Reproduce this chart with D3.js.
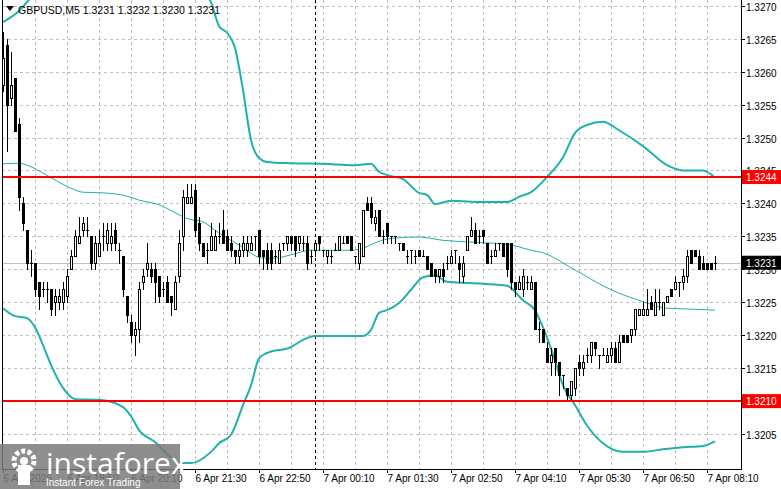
<!DOCTYPE html>
<html><head><meta charset="utf-8">
<script src="https://cdn.jsdelivr.net/npm/d3@7/dist/d3.min.js"></script>
<style>body{margin:0;background:#fff}svg{display:block}</style>
</head><body>
<script>
const P = v => +(1.32 + v/10000).toFixed(5);
// OHLC in pips above 1.3200 (1 pip = 0.0001)
const opens  = [58,64,56,59,52,40,36,31,31,28, 27,27,27,25,25,25,26,30,32,34, 36,36,35,31,32,35,34,34,36,33, 32,26,22,20,21,28,30,30,30,29, 27,28,26,24,29,35,40,40,42,37, 34,33,33,33,35,36,35,34,33,32, 33,33,33,35,36,33,33,33,32,31, 34,34,35,35,34,34,34,32,33,35, 33,32,32,33,33,34,35,35,32,31, 32,40,40,37,39,35,37,35,35,34, 34,32,33,32,33,32,32,31,30,29, 30,31,31,33,31,29,33,35,36,35, 36,34,32,32,34,34,34,34,28,27, 27,28,27,28,21,21,18,16,18,16, 14,12,11,12,16,15,17,17,19,17, 17,16,17,18,16,20,20,20,21,23, 23,23,25,23,25,23,25,27,27,28, 28,29,33,33,32,31,31,31,31].map(P);
const highs  = [66,65,63,59,53,41,36,33,31,28, 28,28,27,27,27,28,30,33,36,38, 38,38,35,35,36,37,37,37,37,34, 32,26,23,22,28,30,34,31,31,29, 28,29,26,29,36,42,43,43,43,38, 34,34,37,36,37,39,36,35,33,34, 35,35,35,35,36,33,34,34,33,34, 34,35,35,35,35,35,35,33,34,35, 33,33,33,34,35,35,35,35,32,34, 39,41,41,39,39,36,37,35,35,34, 34,33,33,33,33,33,32,31,30,30, 31,32,33,33,32,32,35,38,37,36, 36,34,33,34,34,34,34,34,28,29, 30,29,29,28,22,21,19,18,18,16, 14,12,13,15,17,17,18,19,19,17, 18,18,19,19,20,20,20,21,24,24, 25,27,26,27,27,25,26,27,29,28, 30,33,33,33,33,32,31,31,32].map(P);
const lows   = [57,48,55,51,39,36,30,29,26,24, 26,25,23,23,24,24,25,30,32,34, 35,35,30,30,32,33,33,33,33,31, 26,22,19,17,19,27,29,28,25,25, 26,25,23,24,28,33,40,40,35,33, 32,31,33,33,34,34,33,32,31,31, 32,32,33,33,31,30,30,30,31,31, 33,33,33,32,33,33,30,31,32,33, 32,31,31,33,33,34,34,33,31,30, 32,39,37,36,35,34,34,34,34,33, 33,31,31,31,32,32,30,29,28,28, 28,30,31,31,28,28,33,35,34,34, 34,31,31,32,33,32,29,27,26,27, 26,27,27,21,19,19,16,14,14,11, 12,10,10,11,14,14,16,16,17,15, 17,16,16,16,16,19,19,19,20,23, 23,23,24,23,24,23,25,26,27,26, 27,28,31,32,30,30,30,30,30].map(P);
const closes = [62,55,58,51,41,37,31,31,27,26, 27,27,24,26,26,27,29,32,35,35, 37,36,31,34,34,35,36,35,34,33, 27,23,20,21,27,29,31,29,28,26, 27,25,25,28,34,41,41,41,36,34, 32,33,35,35,35,34,33,33,32,33, 34,34,34,35,32,32,31,31,32,33, 34,35,34,33,35,34,31,32,34,34, 33,33,32,33,35,34,34,33,32,34, 39,39,38,38,35,35,35,35,35,34, 33,32,33,32,32,32,30,29,29,30, 29,31,32,33,30,31,35,36,34,35, 35,31,32,33,34,32,30,28,27,28, 29,28,28,21,21,19,16,17,16,14, 14,11,13,15,15,16,17,19,18,17, 17,17,18,16,19,19,19,21,24,24, 24,24,24,25,25,25,26,26,28,28, 29,32,31,32,30,30,30,30,31].map(P);

// Bollinger band lines: [bar index, price]
const upperBand = [[0,1.32675],[4,1.32692],[8,1.3272],[16,1.3276],[24,1.3278],[32,1.3279],[40,1.3277],[48,1.3273],[52,1.32705],[54,1.32669],[56,1.32659],[58,1.32636],[60,1.32572],[62,1.32496],[64,1.32469],[66,1.32463],[72,1.32461],[80,1.3246],[88,1.32458],[92,1.3246],[94,1.32448],[96,1.32443],[100,1.32437],[104,1.32416],[106,1.32413],[108,1.32399],[112,1.32404],[120,1.32402],[126,1.32402],[129,1.3241],[132,1.32417],[136,1.3244],[140,1.3247],[143,1.32507],[146,1.32519],[150,1.32524],[154,1.32511],[160,1.32487],[166,1.32458],[170,1.3245],[175,1.3245],[178,1.32439]];
const middleBand = [[0,1.3246],[4,1.32461],[6,1.32458],[12,1.32439],[17,1.32423],[20,1.32417],[25,1.32416],[31,1.32411],[34,1.32405],[39,1.32398],[43,1.32386],[46,1.32377],[50,1.32372],[54,1.32355],[59,1.32337],[65,1.32317],[68,1.32317],[72,1.32322],[77,1.32329],[87,1.32329],[90,1.32332],[93,1.3234],[97,1.32347],[104,1.32349],[110,1.32344],[118,1.32341],[126,1.32338],[132,1.32329],[135,1.32325],[143,1.32299],[152,1.32269],[159,1.32253],[166,1.32241],[170,1.3224],[178,1.32238]];
const lowerBand = [[0,1.32241],[3,1.32229],[6,1.32226],[8,1.32212],[10,1.32185],[12,1.32155],[15,1.3212],[18,1.32103],[24,1.32102],[30,1.32091],[32,1.32077],[34,1.32056],[38,1.32038],[42,1.32014],[44,1.32006],[47,1.32006],[52,1.32023],[54,1.32036],[57,1.32049],[60,1.32094],[62,1.32124],[64,1.32165],[66,1.32173],[72,1.32182],[75,1.32193],[78,1.32199],[90,1.32199],[92,1.32208],[94,1.32234],[96,1.32238],[99,1.32249],[102,1.32269],[105,1.32288],[108,1.32291],[111,1.32281],[120,1.32278],[126,1.32275],[130,1.32253],[133,1.32238],[135,1.32212],[138,1.32162],[140,1.32124],[143,1.32094],[146,1.32063],[150,1.32036],[155,1.32023],[160,1.32023],[165,1.32027],[170,1.3203],[175,1.32032],[178,1.32039]];

const priceTicks = [1.3270,1.3265,1.3260,1.3255,1.3250,1.3245,1.3240,1.3235,1.3230,1.3225,1.3220,1.3215,1.3210,1.3205];
const timeTickIdx = [0,16,32,48,64,80,96,112,128,144,160,176];
const timeTickLabels = ["6 Apr 2026","6 Apr 18:50","6 Apr 20:10","6 Apr 21:30","6 Apr 22:50","7 Apr 00:10","7 Apr 01:30","7 Apr 02:50","7 Apr 04:10","7 Apr 05:30","7 Apr 06:50","7 Apr 08:10"];
const levels = [1.3244, 1.3210];
const bid = 1.3231;
const daySepIdx = 78;
const title = "GBPUSD,M5  1.3231 1.3232 1.3230 1.3231";

const W=781,H=489, L=2, R=741, T=0, B=469;
const x = d3.scaleLinear().domain([0,178]).range([3,715]);
const y = d3.scaleLinear().domain([1.3270,1.31997]).range([5.7,469]);
const font = "'Liberation Sans', Arial, sans-serif";

const svg = d3.select("body").append("svg").attr("width",W).attr("height",H).style("font-family",font);
svg.append("defs").append("clipPath").attr("id","plot").append("rect").attr("x",L).attr("y",T).attr("width",R-L).attr("height",B-T);
const g = svg.append("g").attr("clip-path","url(#plot)");

g.selectAll(".hg").data(priceTicks).join("line").attr("x1",L).attr("x2",R).attr("y1",d=>Math.round(y(d))+0.5).attr("y2",d=>Math.round(y(d))+0.5).attr("stroke","#c0c0c0").attr("stroke-dasharray","3,3");
g.selectAll(".vg").data(d3.range(8,179,8)).join("line").attr("x1",d=>Math.round(x(d))+0.5).attr("x2",d=>Math.round(x(d))+0.5).attr("y1",T).attr("y2",B).attr("stroke","#c0c0c0").attr("stroke-dasharray","3,3");
g.append("line").attr("x1",Math.round(x(daySepIdx))+0.5).attr("x2",Math.round(x(daySepIdx))+0.5).attr("y1",T).attr("y2",B).attr("stroke","#000").attr("stroke-dasharray","3,3");
g.append("line").attr("x1",L).attr("x2",R).attr("y1",Math.round(y(bid))+0.5).attr("y2",Math.round(y(bid))+0.5).attr("stroke","#c0c0c0");

const line = d3.line().x(d=>x(d[0])).y(d=>y(d[1])).curve(d3.curveMonotoneX);
const teal="#20b2aa";
g.append("path").attr("d",line(upperBand)).attr("fill","none").attr("stroke",teal).attr("stroke-width",2);
g.append("path").attr("d",line(lowerBand)).attr("fill","none").attr("stroke",teal).attr("stroke-width",2);
g.append("path").attr("d",line(middleBand)).attr("fill","none").attr("stroke",teal).attr("stroke-width",1);

const bars = closes.map((c,i)=>({i,o:opens[i],h:highs[i],l:lows[i],c}));
const cg = g.append("g");
bars.forEach(d=>{
  const cx = Math.round(x(d.i))+0.5;
  cg.append("line").attr("x1",cx).attr("x2",cx).attr("y1",Math.round(y(d.h))).attr("y2",Math.round(y(d.l))+1).attr("stroke","#000");
  const yo=Math.round(y(d.o)), yc=Math.round(y(d.c));
  if (yo===yc) {
    cg.append("line").attr("x1",cx-1.5).attr("x2",cx+1.5).attr("y1",yo+0.5).attr("y2",yo+0.5).attr("stroke","#000");
  } else if (d.c>d.o) {
    cg.append("rect").attr("x",cx-1).attr("y",yc+0.5).attr("width",2).attr("height",yo-yc).attr("fill","#fff").attr("stroke","#000");
  } else {
    cg.append("rect").attr("x",cx-1.5).attr("y",yo).attr("width",3).attr("height",yc-yo+1).attr("fill","#000");
  }
});

g.selectAll(".lv").data(levels).join("line").attr("x1",L).attr("x2",R).attr("y1",d=>y(d)).attr("y2",d=>y(d)).attr("stroke","#ff0000").attr("stroke-width",2);

svg.append("line").attr("x1",R+0.5).attr("x2",R+0.5).attr("y1",0).attr("y2",B+1).attr("stroke","#000");
svg.append("line").attr("x1",L).attr("x2",R+1).attr("y1",B+0.5).attr("y2",B+0.5).attr("stroke","#000");
svg.append("line").attr("x1",L+0.5).attr("x2",L+0.5).attr("y1",0).attr("y2",B).attr("stroke","#000");

const pa = svg.append("g");
priceTicks.forEach(p=>{
  const yy=Math.round(y(p))+0.5;
  pa.append("line").attr("x1",R).attr("x2",R+4).attr("y1",yy).attr("y2",yy).attr("stroke","#000");
  pa.append("text").attr("x",746).attr("y",yy+4).attr("font-size",10).attr("fill","#000").text(p.toFixed(4));
});
function tag(p,fill){
  const yy=y(p);
  pa.append("rect").attr("x",R+1).attr("y",yy-7).attr("width",W-R).attr("height",14).attr("fill",fill);
  pa.append("text").attr("x",746).attr("y",yy+4).attr("font-size",10).attr("fill","#fff").text(p.toFixed(4));
}
tag(levels[0],"#ff0000"); tag(levels[1],"#ff0000"); tag(bid,"#000");

timeTickIdx.forEach((t,k)=>{
  const xx=Math.round(x(t))+0.5;
  svg.append("line").attr("x1",xx).attr("x2",xx).attr("y1",B).attr("y2",B+4).attr("stroke","#000");
  svg.append("text").attr("x",xx).attr("y",482).attr("font-size",10).attr("fill","#000").text(timeTickLabels[k]);
});

svg.append("path").attr("d","M6,6 L14,6 L10,11 Z").attr("fill","#000");
svg.append("text").attr("x",18).attr("y",14).attr("font-size",10.5).attr("fill","#000").text(title);

const wm = svg.append("g");
wm.append("rect").attr("x",0).attr("y",444).attr("width",180).attr("height",45).attr("fill","#7a7a7a").attr("opacity",0.85);
wm.append("circle").attr("cx",24).attr("cy",461).attr("r",10).attr("fill","none").attr("stroke","#fff").attr("stroke-width",5).attr("stroke-dasharray","4,2.3");
wm.append("circle").attr("cx",24).attr("cy",461).attr("r",4).attr("fill","#fff");
wm.append("rect").attr("x",18).attr("y",465).attr("width",12).attr("height",20).attr("fill","#fff");
wm.append("text").attr("x",46).attr("y",474).attr("font-size",30).attr("fill","#fff").attr("font-family","'Open Sans', sans-serif").text("instaforex");
wm.append("text").attr("x",46).attr("y",486).attr("font-size",10).attr("fill","#fff").text("Instant Forex Trading");
</script>
</body></html>
